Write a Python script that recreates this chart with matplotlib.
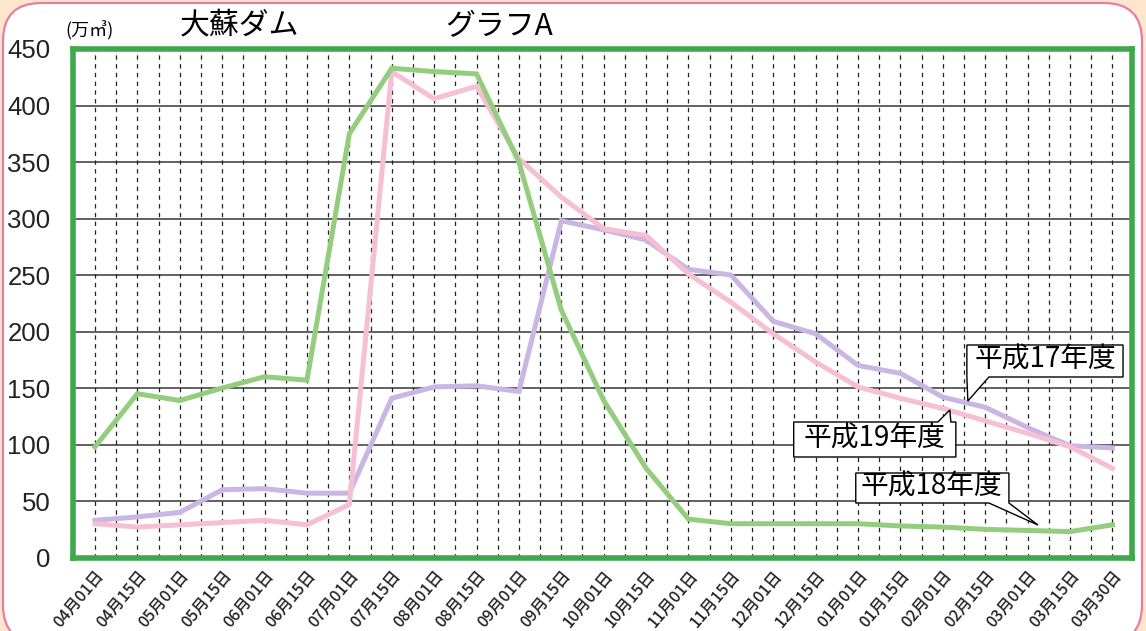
import matplotlib
matplotlib.use('Agg')
import matplotlib.pyplot as plt
from matplotlib.patches import FancyBboxPatch, Polygon

# == data (万m3)
dates = ['04月01日', '04月15日', '05月01日', '05月15日', '06月01日', '06月15日',
         '07月01日', '07月15日', '08月01日', '08月15日', '09月01日', '09月15日',
         '10月01日', '10月15日', '11月01日', '11月15日', '12月01日', '12月15日',
         '01月01日', '01月15日', '02月01日', '02月15日', '03月01日', '03月15日', '03月30日']
h17 = [33, 36, 40, 60, 61, 57, 57, 141, 151, 152, 147, 298, 290, 281, 255, 250,
       209, 198, 170, 163, 142, 133, 115, 99, 97]
h18 = [98, 145, 139, 150, 160, 157, 375, 433, 430, 428, 350, 219, 139, 79, 34, 30,
       30, 30, 30, 28, 27, 25, 24, 23, 29]
h19 = [30, 27, 29, 31, 33, 29, 47, 430, 406, 417, 353, 319, 291, 285, 251, 226,
       198, 173, 151, 141, 132, 121, 110, 98, 79]
yticks = [0, 50, 100, 150, 200, 250, 300, 350, 400, 450]

JP = ['Noto Sans CJK JP', 'DejaVu Sans']
plt.rcParams['font.family'] = JP

W, H = 1146, 631
fig = plt.figure(figsize=(W / 100, H / 100), dpi=100)
fig.patch.set_facecolor('#fde6cc')

#background card with the pink rounded border
bg = fig.add_axes([0, 0, 1, 1])
bg.set_xlim(0, W)
bg.set_ylim(H, 0)
bg.axis('off')
bg.add_patch(FancyBboxPatch((3, 3), 1139, 640, boxstyle='round,pad=0,rounding_size=38',
                            fc='white', ec='#ec7ba3', lw=1.6))

#main plot area (green frame)
x0, x1, ytop, ybot = 72.5, 1131.5, 49, 557.6
ax = fig.add_axes([x0 / W, 1 - ybot / H, (x1 - x0) / W, (ybot - ytop) / H])
ax.set_facecolor('white')
xs = list(range(len(dates)))
ax.set_xlim(-0.53, 24.45)
ax.set_ylim(0, 450)

#grid: solid horizontal, dashed vertical every half step
for v in yticks[1:-1]:
    ax.axhline(v, color='#555555', lw=1.3, zorder=1)
for i in range(2 * len(dates) - 1):
    ax.axvline(i / 2, color='#222222', lw=0.9, ls=(0, (3.5, 3.5)), zorder=1)

ax.plot(xs, h17, color='#c9b6e4', lw=3.6, zorder=3, solid_joinstyle='miter')
ax.plot(xs, h19, color='#f6bfd4', lw=3.6, zorder=4, solid_joinstyle='miter')
ax.plot(xs, h18, color='#93cd7d', lw=3.6, zorder=5, solid_joinstyle='miter')

for s in ax.spines.values():
    s.set_color('#3fa84a')
    s.set_linewidth(4)
    s.set_zorder(6)

ax.set_yticks(yticks)
ax.set_yticklabels([str(v) for v in yticks], fontsize=18.5, family=['Liberation Sans', 'DejaVu Sans'])
ax.set_xticks(xs)
ax.set_xticklabels(dates, rotation=50, ha='right', va='top', rotation_mode='anchor',
                   fontsize=11.5, fontweight='medium')
ax.tick_params(axis='y', length=0, pad=16, colors='#222222')
ax.tick_params(axis='x', length=0, pad=7, colors='#222222')

#callouts: outline given in pixels of the reference, converted to data units
def px2data(p):
    return ((p[0] - 95) / 42.35, (ybot - p[1]) * 450 / (ybot - ytop))

def callout(label, outline, center):
    ax.add_patch(Polygon([px2data(p) for p in outline], closed=True, fc='white',
                         ec='black', lw=1, zorder=7, joinstyle='miter'))
    ax.text(*px2data(center), label, ha='center', va='center', fontsize=20, zorder=8)

callout('平成17年度', [(966, 345), (1122, 345), (1122, 377), (988, 377), (967, 401), (966, 377)],
        (1044, 360))
callout('平成19年度', [(793, 422), (937, 422), (949, 410), (950, 422), (955, 422), (955, 457),
                      (793, 457)], (874, 439))
callout('平成18年度', [(855, 473), (1008, 473), (1008, 503), (1037, 525), (988, 503), (855, 503)],
        (931, 487))

#titles
fig.text(65 / W, 1 - 31 / H, '(万㎥)', fontsize=13, va='center', ha='left')
fig.text(180 / W, 1 - 25 / H, '大蘇ダム', fontsize=21.5, va='center', ha='left')
fig.text(445 / W, 1 - 27 / H, 'グラフA', fontsize=21.5, va='center', ha='left')

plt.savefig('out.png', dpi=100, facecolor=fig.get_facecolor())
